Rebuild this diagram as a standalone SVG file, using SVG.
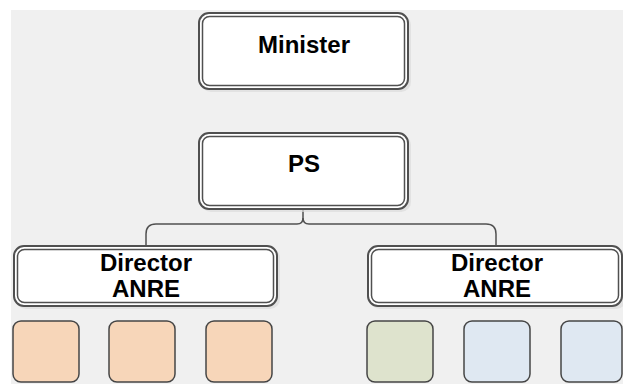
<svg xmlns="http://www.w3.org/2000/svg" width="623" height="384" viewBox="0 0 623 384">
<defs>
<style>
.bg{fill:#f0f0f0}
.sh{fill:#dcdcdc;opacity:0.7}
.outer{fill:#fff;stroke:#505050;stroke-width:2}
.inner{fill:none;stroke:#505050;stroke-width:1.5}
.sm{stroke:#454545;stroke-width:1.5}
.peach{fill:#f7d6b9}
.green{fill:#dee3cd}
.blue{fill:#dfe8f2}
.lbl{font-family:"Liberation Sans",Arial,sans-serif;font-weight:bold;font-size:24px;fill:#000;text-anchor:middle}
.con{fill:none;stroke:#505050;stroke-width:1.5}
</style>
</defs>
<rect class="bg" x="11" y="10" width="612" height="374"/>
<g id="connectors">
<path class="con" d="M303,209 L303,218 Q303,224 297,224 L156,224 Q146,224 146,234 L146,246"/>
<path class="con" d="M303,218 Q303,224 309,224 L486,224 Q496,224 496,234 L496,246"/>
</g>
<g id="minister">
<rect class="sh" x="201" y="15" width="210" height="77" rx="10"/>
<rect class="outer" x="199" y="13" width="209" height="76" rx="10"/>
<rect class="inner" x="202.5" y="16.5" width="202" height="69" rx="7"/>
<text class="lbl" x="304" y="53">Minister</text>
</g>
<g id="ps">
<rect class="sh" x="201" y="135" width="210" height="77" rx="10"/>
<rect class="outer" x="199" y="133" width="209" height="76" rx="10"/>
<rect class="inner" x="202.5" y="136.5" width="202" height="69" rx="7"/>
<text class="lbl" x="304" y="172">PS</text>
</g>
<g id="director-left">
<rect class="sh" x="16" y="248" width="264" height="61" rx="10"/>
<rect class="outer" x="14" y="246" width="263" height="60" rx="10"/>
<rect class="inner" x="17.5" y="249.5" width="256" height="53" rx="7"/>
<text class="lbl" x="146" y="271">Director</text>
<text class="lbl" x="146" y="297">ANRE</text>
</g>
<g id="director-right">
<rect class="sh" x="370" y="248" width="256" height="61" rx="10"/>
<rect class="outer" x="368" y="246" width="254" height="60" rx="10"/>
<rect class="inner" x="371.5" y="249.5" width="247" height="53" rx="7"/>
<text class="lbl" x="497" y="271">Director</text>
<text class="lbl" x="497" y="297">ANRE</text>
</g>
<g id="box1"><rect class="sm peach" x="13" y="321" width="66" height="61" rx="8"/></g>
<g id="box2"><rect class="sm peach" x="109" y="321" width="66" height="61" rx="8"/></g>
<g id="box3"><rect class="sm peach" x="206" y="321" width="66" height="61" rx="8"/></g>
<g id="box4"><rect class="sm green" x="367" y="321" width="66" height="61" rx="8"/></g>
<g id="box5"><rect class="sm blue" x="464" y="321" width="66" height="61" rx="8"/></g>
<g id="box6"><rect class="sm blue" x="561" y="321" width="61" height="61" rx="8"/></g>
</svg>
